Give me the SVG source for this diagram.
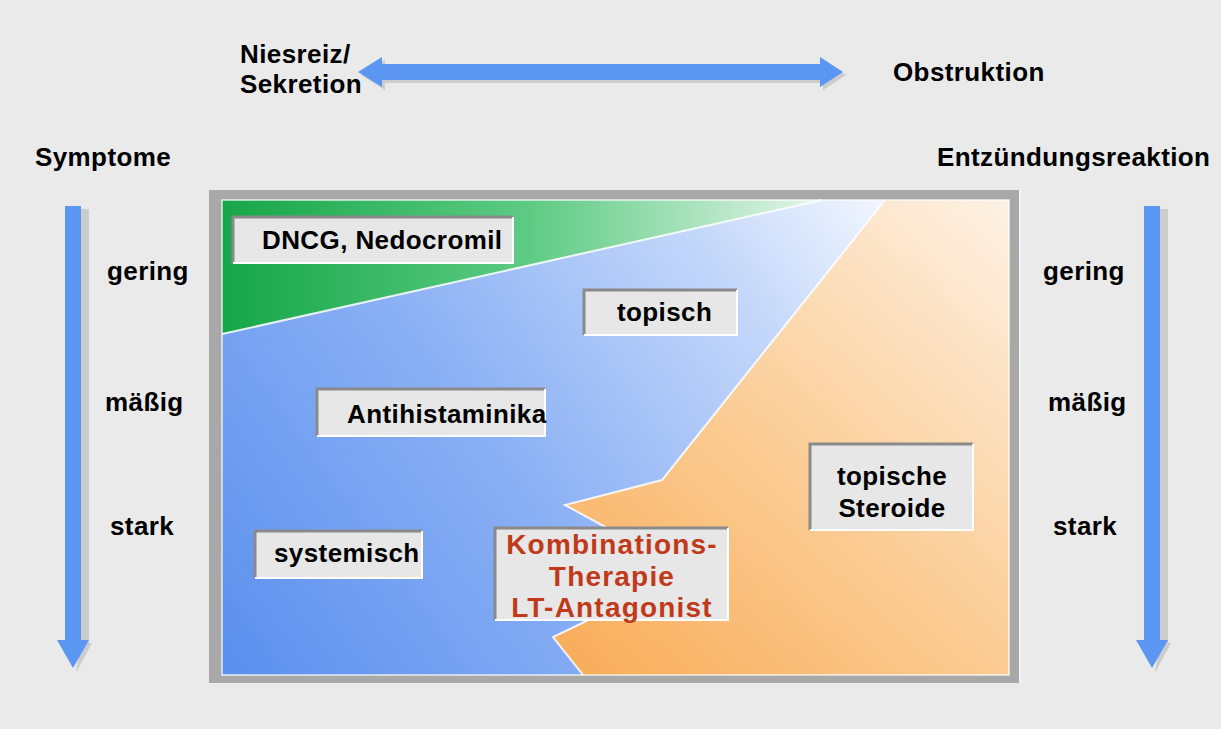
<svg xmlns="http://www.w3.org/2000/svg" width="1221" height="729" viewBox="0 0 1221 729">
<defs>
<linearGradient id="gBlue" gradientUnits="userSpaceOnUse" x1="222" y1="675" x2="880" y2="205">
<stop offset="0" stop-color="#5a8fee"/>
<stop offset="0.45" stop-color="#8cb1f4"/>
<stop offset="0.8" stop-color="#c5d8fa"/>
<stop offset="1" stop-color="#f0f5fe"/>
</linearGradient>
<linearGradient id="gGreen" gradientUnits="userSpaceOnUse" x1="222" y1="0" x2="840" y2="0">
<stop offset="0" stop-color="#16a648"/>
<stop offset="0.5" stop-color="#5ecb84"/>
<stop offset="1" stop-color="#eef8f1"/>
</linearGradient>
<linearGradient id="gOrange" gradientUnits="userSpaceOnUse" x1="583" y1="675" x2="1009" y2="205">
<stop offset="0" stop-color="#f8ad5a"/>
<stop offset="0.5" stop-color="#fbcf9a"/>
<stop offset="1" stop-color="#fdf1e4"/>
</linearGradient>
<style>
.t{font-family:"Liberation Sans",Arial,sans-serif;font-weight:bold;font-size:26px;letter-spacing:0.4px;fill:#000}
.r{font-family:"Liberation Sans",Arial,sans-serif;font-weight:bold;font-size:28px;letter-spacing:1.2px;fill:#c03a1a;text-anchor:middle}
.c{text-anchor:middle}
.box{fill:#e7e7e7}
.bsh{stroke:#8a8a8a;stroke-width:3;fill:none}
.bhl{stroke:#ffffff;stroke-width:2;fill:none}
.arr{fill:#5b97f2}
.sh{fill:#b8b8b8;opacity:0.6}
.sep{stroke:#ffffff;stroke-width:2;fill:none;opacity:0.85}
</style>
</defs>
<rect x="0" y="0" width="1221" height="729" fill="#eaeaea"/>

<g id="connectors">
<polygon class="sh" points="361,75 385,60 385,67 823,67 823,60 846,75 823,90 823,83 385,83 385,90"/>
<polygon class="arr" points="358,72 382,57 382,64 820,64 820,57 843,72 820,87 820,80 382,80 382,87"/>
<polygon class="sh" points="81,209 89,209 89,643 92,643 77,671 76,671 81,643"/>
<polygon class="arr" points="65,206 81,206 81,640 89,640 73,668 57,640 65,640"/>
<polygon class="sh" points="1160,209 1168,209 1168,643 1171,643 1156,671 1155,671 1160,643"/>
<polygon class="arr" points="1144,206 1160,206 1160,640 1168,640 1152,668 1136,640 1144,640"/>
</g>

<g id="frame">
<rect x="209" y="190" width="810" height="493" fill="#a8a8a8"/>
<rect x="1019" y="190" width="2" height="493" fill="#f4f4f4"/>
<rect x="222" y="200" width="787" height="475" fill="url(#gBlue)"/>
<polygon points="222,200 822,200 222,334" fill="url(#gGreen)"/>
<polygon points="885,200 1009,200 1009,675 583,675 553,637 605,612 620,535 565,505 662,480" fill="url(#gOrange)"/>
<line class="sep" x1="222" y1="334" x2="822" y2="200"/>
<polyline class="sep" points="885,200 662,480 565,505 620,535"/>
<polyline class="sep" points="605,612 553,637 583,675"/>
<rect x="222" y="200" width="787" height="475" fill="none" stroke="#ffffff" stroke-width="1.5" opacity="0.8"/>
</g>

<g id="labels-top">
<text class="t" x="240" y="63">Niesreiz/</text>
<text class="t" x="240" y="93">Sekretion</text>
<text class="t" x="893" y="81">Obstruktion</text>
<text class="t" x="35" y="166">Symptome</text>
<text class="t" x="937" y="166">Entzündungsreaktion</text>
</g>

<g id="labels-left">
<text class="t" x="107" y="280">gering</text>
<text class="t" x="105" y="411">mäßig</text>
<text class="t" x="110" y="535">stark</text>
</g>

<g id="labels-right">
<text class="t" x="1043" y="280">gering</text>
<text class="t" x="1048" y="411">mäßig</text>
<text class="t" x="1053" y="535">stark</text>
</g>

<g id="node-dncg">
<rect class="box" x="233" y="216" width="280" height="47"/>
<polyline class="bsh" points="233,263 233,217 513,217"/>
<polyline class="bhl" points="233,263 513,263 513,217"/>
<text class="t" x="262" y="249">DNCG, Nedocromil</text>
</g>

<g id="node-topisch">
<rect class="box" x="584" y="289" width="153" height="46"/>
<polyline class="bsh" points="584,335 584,290 737,290"/>
<polyline class="bhl" points="584,335 737,335 737,290"/>
<text class="t" x="617" y="321">topisch</text>
</g>

<g id="node-antihistaminika">
<rect class="box" x="317" y="388" width="228" height="48"/>
<polyline class="bsh" points="317,436 317,389 545,389"/>
<polyline class="bhl" points="317,436 545,436 545,389"/>
<text class="t" x="347" y="423">Antihistaminika</text>
</g>

<g id="node-systemisch">
<rect class="box" x="255" y="530" width="167" height="48"/>
<polyline class="bsh" points="255,578 255,531 422,531"/>
<polyline class="bhl" points="255,578 422,578 422,531"/>
<text class="t" x="274" y="562">systemisch</text>
</g>

<g id="node-kombination">
<rect class="box" x="495" y="527" width="233" height="93"/>
<polyline class="bsh" points="495,620 495,528 728,528"/>
<polyline class="bhl" points="495,620 728,620 728,528"/>
<text class="r" x="612" y="554">Kombinations-</text>
<text class="r" x="612" y="585.5">Therapie</text>
<text class="r" x="612" y="617">LT-Antagonist</text>
</g>

<g id="node-steroide">
<rect class="box" x="810" y="443" width="163" height="87"/>
<polyline class="bsh" points="810,530 810,444 973,444"/>
<polyline class="bhl" points="810,530 973,530 973,444"/>
<text class="t c" x="892" y="485">topische</text>
<text class="t c" x="892" y="517">Steroide</text>
</g>
</svg>
